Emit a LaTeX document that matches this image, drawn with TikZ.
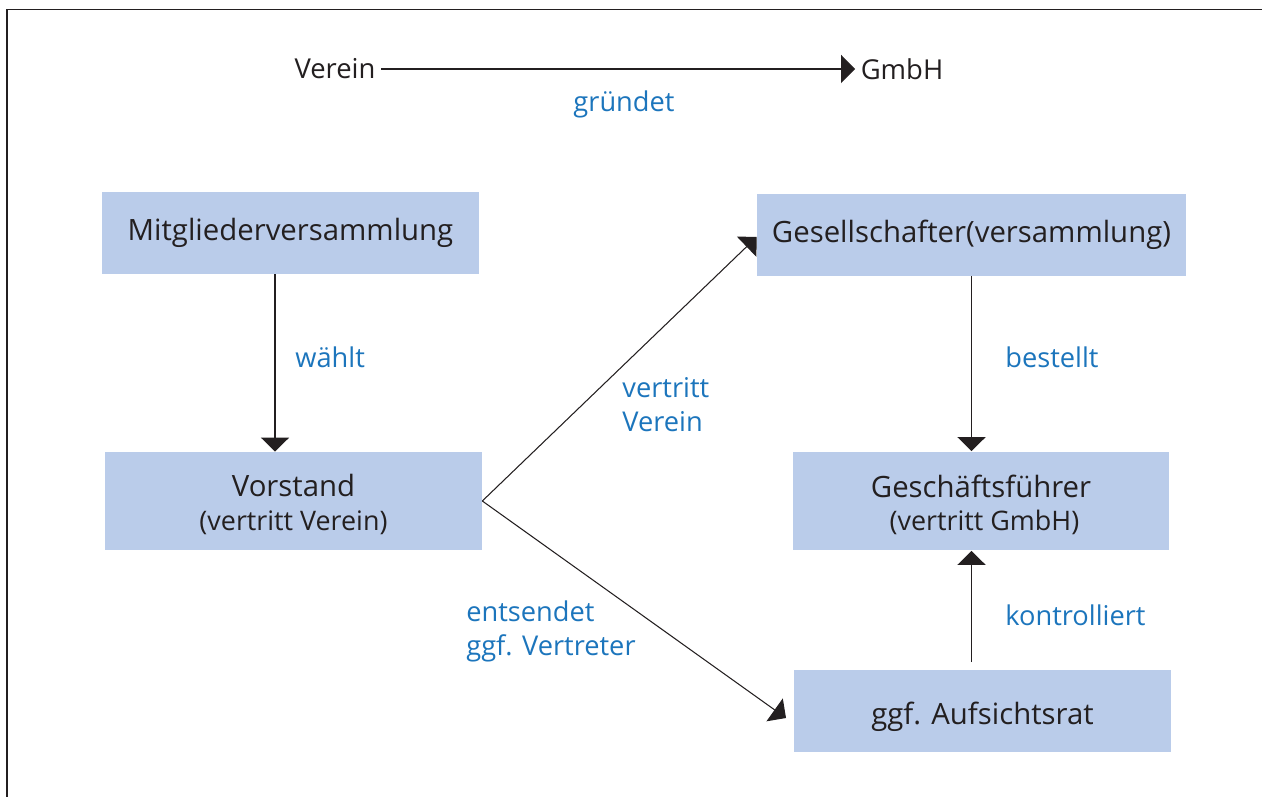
\documentclass[tikz,border=0pt]{standalone}
\usepackage{fontspec}
\setmainfont{Open Sans}
\usetikzlibrary{arrows.meta}
\usetikzlibrary{calc}
\definecolor{boxblue}{HTML}{BACCEA}
\definecolor{labelblue}{HTML}{1C75BC}
\definecolor{ink}{HTML}{231F20}

\tikzset{
  organ/.style={fill=boxblue, text=ink, align=center, inner sep=0pt,
    minimum width=7.54cm, minimum height=1.64cm,
    font=\fontsize{16.7}{19}\selectfont},
  lbl/.style={text=labelblue, anchor=west, align=left, inner sep=0pt,
    font=\fontsize{15.5}{19}\selectfont},
  pfeil/.style={draw=ink, line width=0.6pt,
    -{Triangle[width=0.56cm,length=0.28cm]}}
}
\newcommand{\zusatz}{\fontsize{15.3}{18}\selectfont}
\newcommand{\tiefer}[2]{\raisebox{-#1}[\height][\depth]{#2}}

\begin{document}
\begin{tikzpicture}[x=0.02cm,y=-0.02cm]
        \useasboundingbox (0,0) rectangle (1262,797);
        \draw[ink, line width=0.8pt] (7,797) -- (7,9.5) -- (1262,9.5);

        % Verein -> GmbH
        \node[text=ink, inner sep=3pt, font=\fontsize{15.6}{18}\selectfont](verein) at (335,69){Verein};
        \node[text=ink, inner sep=3pt, font=\fontsize{15.6}{18}\selectfont](gmbh) at (902,69){GmbH};
        \draw[pfeil] (verein) -- (gmbh);
        \node[lbl, anchor=center](gruendet) at (624,104){gründet};

        % Organe
        \node[organ](mv) at (290.5,233){Mitgliederversammlung};
        \node[organ, minimum height=1.96cm](vs) at (293.5,501){\tiefer{1.7pt}{Vorstand}\\[-0.5pt]{\zusatz\tiefer{2.3pt}{(vertritt Verein)}}};
        \node[organ, minimum width=8.58cm](gs) at (971.5,235){Gesellschafter(versammlung)};
        \node[organ, minimum height=1.98cm](gf) at (981,501){\tiefer{2pt}{Geschäftsführer}\\[-0.5pt]{\zusatz\tiefer{2.5pt}{\ (vertritt GmbH)}}};
        \node[organ, minimum height=1.66cm](ar) at (982.5,711){\tiefer{3.2pt}{ggf. Aufsichtsrat}};

        % Verbindungen
        \draw[pfeil] ([xshift=-0.31cm]mv.south) -- ([xshift=-0.31cm]mv.south |- vs.north);
        \draw[pfeil] (gs.south) -- (gs.south |- gf.north);
        \coordinate (kstart) at ($(gs.south |- ar.north)+(0,-7)$);
        \draw[pfeil] (kstart) -- (kstart |- gf.south);
        \draw[pfeil] (vs.east) -- ([yshift=-0.04cm]gs.west);
        \coordinate (arin) at (786,718);
        \draw[pfeil] (vs.east) -- (arin);

        \node[lbl](waehlt) at (295,357){wählt};
        \node[lbl](bestellt) at (1005,357){bestellt};
        \node[lbl](vertritt) at (622,404.5){vertritt\\Verein};
        \node[lbl](entsendet) at (466,631.5){entsendet\\ggf. Vertreter};
        \node[lbl](kontrolliert) at (1005,615){kontrolliert};

      \end{tikzpicture}
\end{document}
